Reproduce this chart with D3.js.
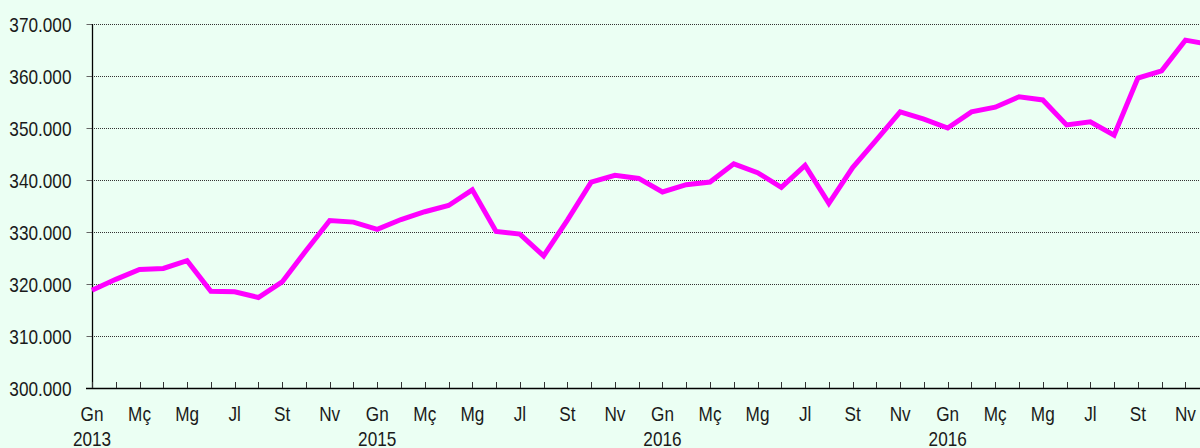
<!DOCTYPE html>
<html>
<head>
<meta charset="utf-8">
<script src="https://cdn.jsdelivr.net/npm/d3@7"></script>
<style>
  html, body { margin: 0; padding: 0; background: #EBFFF3; }
  svg { display: block; }
  text { font-family: "Liberation Sans", Arial, sans-serif; fill: #1a1a1a; }
</style>
</head>
<body>
<div id="chart"></div>
<script>
// Monthly series, January 2013 onward (Catalan month abbreviations)
const monthNames = ["Gn", "Fb", "Mç", "Ab", "Mg", "Jn", "Jl", "Ag", "St", "Oc", "Nv", "Dc"];
const yearLabels = ["2013", "2015", "2016", "2016"];
const values = [
  318.8, 320.9, 322.8, 323.0, 324.5, 318.6, 318.5, 317.4, 320.4, 326.4, 332.2, 331.9,
  330.5, 332.4, 333.9, 335.1, 338.1, 330.1, 329.6, 325.4, 332.3, 339.6, 340.9, 340.3,
  337.7, 339.1, 339.6, 343.1, 341.4, 338.6, 342.8, 335.5, 342.4, 347.7, 353.1, 351.7,
  350.0, 353.1, 354.0, 356.0, 355.4, 350.6, 351.2, 348.6, 359.6, 361.0, 366.9, 366.1
];
const yTicks = [300, 310, 320, 330, 340, 350, 360, 370];

const W = 1200, H = 448;
const mLeft = 92, mTop = 24, mBottom = 388;
const step = 23.77;
const fontSize = 20, squeeze = 0.86;

const idx = d3.range(values.length);
const x = d3.scaleLinear().domain([0, values.length - 1])
  .range([mLeft, mLeft + (values.length - 1) * step]);
const y = d3.scaleLinear().domain([300, 370]).range([mBottom, mTop]);

const svg = d3.select("#chart").append("svg")
  .attr("width", W).attr("height", H);

svg.append("rect").attr("width", W).attr("height", H).attr("fill", "#EBFFF3");

// Horizontal dotted gridlines
svg.append("g").selectAll("line")
  .data(yTicks.filter(t => t > 300))
  .join("line")
  .attr("x1", mLeft).attr("x2", W)
  .attr("y1", d => Math.round(y(d)) + 0.5).attr("y2", d => Math.round(y(d)) + 0.5)
  .attr("stroke", "#333")
  .attr("stroke-width", 1)
  .attr("stroke-dasharray", "1,1");

// Y axis: outward ticks and labels
const gy = svg.append("g").attr("transform", `translate(${mLeft + 0.5},0)`).call(
  d3.axisLeft(y).tickValues(yTicks).tickSize(6).tickPadding(0).tickFormat(d => d + ".000")
);
gy.select(".domain").remove();
gy.selectAll(".tick line").attr("stroke", "#666");
gy.selectAll(".tick text")
  .attr("x", 0)
  .attr("font-size", fontSize)
  .attr("text-anchor", "end")
  .attr("dy", "0.35em")
  .attr("fill", "#1a1a1a")
  .attr("transform", `translate(-21,0) scale(${squeeze},1)`);

svg.append("line")
  .attr("x1", mLeft + 0.5).attr("x2", mLeft + 0.5)
  .attr("y1", mTop).attr("y2", mBottom)
  .attr("stroke", "#000").attr("stroke-width", 1.3);

// X axis: monthly inward ticks, labels every second month
const gx = svg.append("g").attr("transform", `translate(0,${mBottom})`);
gx.append("line").attr("x1", mLeft - 6).attr("x2", W)
  .attr("y1", 0.5).attr("y2", 0.5).attr("stroke", "#000").attr("stroke-width", 1.3);
gx.selectAll("line.tk").data(idx).join("line").attr("class", "tk")
  .attr("x1", d => Math.round(x(d)) + 0.5).attr("x2", d => Math.round(x(d)) + 0.5)
  .attr("y1", -6).attr("y2", 0)
  .attr("stroke", "#333");
gx.selectAll("text.mo").data(idx.filter(i => i % 2 === 0)).join("text").attr("class", "mo")
  .attr("transform", d => `translate(${x(d)},33) scale(${squeeze},1)`)
  .attr("text-anchor", "middle")
  .attr("font-size", fontSize)
  .text(d => monthNames[d % 12]);
gx.selectAll("text.yr").data(yearLabels).join("text").attr("class", "yr")
  .attr("transform", (d, i) => `translate(${x(i * 12)},57.5) scale(${squeeze},1)`)
  .attr("text-anchor", "middle")
  .attr("font-size", fontSize)
  .text(d => d);

// Series line
svg.append("path")
  .datum(idx)
  .attr("fill", "none")
  .attr("stroke", "#FF00FF")
  .attr("stroke-width", 5)
  .attr("stroke-linejoin", "miter")
  .attr("d", d3.line().x(i => x(i)).y(i => y(values[i])));
</script>
</body>
</html>
